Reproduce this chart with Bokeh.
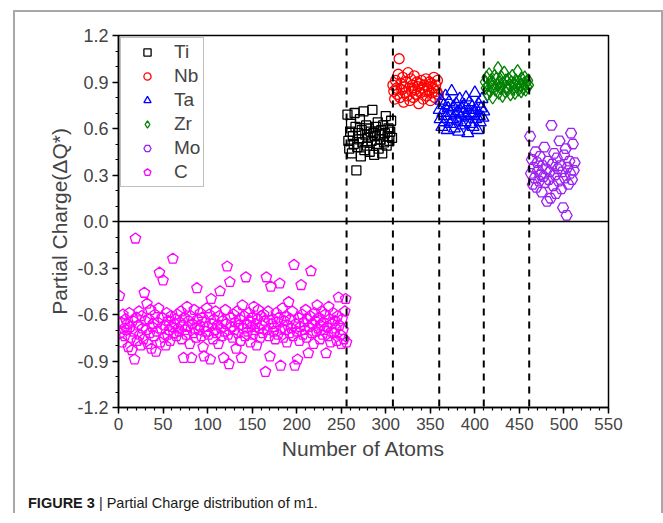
from bokeh.plotting import figure
from bokeh.models import (FixedTicker, PrintfTickFormatter, Span,
                          Legend, LegendItem, Range1d, Div)
from bokeh.layouts import column
from bokeh.embed import file_html
from bokeh.resources import INLINE

# ---------------- data ----------------
x_ticks = [0, 50, 100, 150, 200, 250, 300, 350, 400, 450, 500, 550]
y_ticks = [-1.2, -0.9, -0.6, -0.3, 0.0, 0.3, 0.6, 0.9, 1.2]
boundaries = [256, 308, 360, 410, 461]

c_vals = [
    -0.48, -0.72, -0.65, -0.78, -0.60, -0.69, -0.74, -0.63, -0.70, -0.66, -0.81, -0.59, -0.68, -0.75, -0.83, -0.64,
    -0.71, -0.89, -0.11, -0.62, -0.77, -0.67, -0.58, -0.73, -0.80, -0.61, -0.69, -0.76, -0.46, -0.64, -0.70, -0.53,
    -0.79, -0.63, -0.72, -0.57, -0.82, -0.68, -0.66, -0.74, -0.60, -0.84, -0.71, -0.65, -0.56, -0.33, -0.78, -0.69,
    -0.62, -0.38, -0.75, -0.67, -0.80, -0.59, -0.73, -0.64, -0.70, -0.77, -0.61, -0.68, -0.24, -0.72, -0.66, -0.63,
    -0.74, -0.60, -0.69, -0.71, -0.65, -0.58, -0.76, -0.67, -0.88, -0.62, -0.70, -0.73, -0.55, -0.68, -0.64, -0.79,
    -0.61, -0.88, -0.66, -0.72, -0.57, -0.69, -0.75, -0.43, -0.63, -0.70, -0.67, -0.59, -0.74, -0.62, -0.81, -0.87,
    -0.65, -0.71, -0.56, -0.68, -0.73, -0.60, -0.89, -0.50, -0.66, -0.76, -0.63, -0.70, -0.58, -0.72, -0.67, -0.79,
    -0.61, -0.45, -0.69, -0.74, -0.64, -0.88, -0.71, -0.57, -0.66, -0.29, -0.73, -0.92, -0.39, -0.62, -0.68, -0.75,
    -0.60, -0.70, -0.65, -0.82, -0.58, -0.72, -0.67, -0.63, -0.77, -0.88, -0.54, -0.69, -0.61, -0.74, -0.36, -0.66,
    -0.71, -0.59, -0.64, -0.78, -0.68, -0.62, -0.73, -0.55, -0.70, -0.66, -0.80, -0.63, -0.57, -0.69, -0.75, -0.61,
    -0.67, -0.72, -0.60, -0.64, -0.97, -0.36, -0.70, -0.58, -0.74, -0.87, -0.42, -0.66, -0.63, -0.71, -0.68, -0.76,
    -0.59, -0.65, -0.73, -0.62, -0.40, -0.93, -0.69, -0.56, -0.75, -0.64, -0.70, -0.61, -0.78, -0.67, -0.52, -0.72,
    -0.63, -0.69, -0.58, -0.74, -0.28, -0.93, -0.66, -0.71, -0.89, -0.62, -0.77, -0.68, -0.41, -0.60, -0.73, -0.65,
    -0.70, -0.57, -0.75, -0.63, -0.85, -0.68, -0.61, -0.32, -0.72, -0.66, -0.79, -0.59, -0.64, -0.71, -0.54, -0.69,
    -0.62, -0.76, -0.67, -0.58, -0.73, -0.65, -0.70, -0.60, -0.85, -0.68, -0.74, -0.55, -0.63, -0.78, -0.71, -0.66,
    -0.59, -0.72, -0.64, -0.69, -0.77, -0.61, -0.49, -0.67, -0.73, -0.79, -0.63, -0.70, -0.76, -0.58, -0.50, -0.78,
]
ti_vals = [0.69, 0.52, 0.47, 0.58, 0.63, 0.44, 0.55, 0.50, 0.70, 0.61, 0.33, 0.48, 0.57, 0.53, 0.66, 0.42, 0.59,
           0.51, 0.71, 0.46, 0.56, 0.62, 0.49, 0.54, 0.60, 0.45, 0.58, 0.52, 0.72, 0.57, 0.43, 0.55, 0.61, 0.50,
           0.64, 0.47, 0.56, 0.53, 0.59, 0.44, 0.62, 0.51, 0.57, 0.68, 0.49, 0.55, 0.60, 0.52, 0.58, 0.65, 0.54]
nb_vals = [0.88, 0.84, 0.79, 0.91, 0.86, 0.82, 0.95, 1.05, 0.80, 0.89, 0.85, 0.93, 0.77, 0.87, 0.83, 0.90, 0.81,
           0.96, 0.86, 0.78, 0.92, 0.84, 0.88, 0.80, 0.94, 0.85, 0.82, 0.90, 0.87, 0.76, 0.89, 0.83, 0.91, 0.86,
           0.79, 0.88, 0.84, 0.92, 0.81, 0.87, 0.85, 0.90, 0.78, 0.89, 0.83, 0.86, 0.93, 0.80, 0.88, 0.84, 0.91, 0.82]
ta_vals = [0.72, 0.66, 0.78, 0.61, 0.70, 0.75, 0.64, 0.81, 0.68, 0.59, 0.73, 0.77, 0.63, 0.70, 0.84, 0.66, 0.74,
           0.60, 0.69, 0.76, 0.65, 0.71, 0.58, 0.79, 0.67, 0.73, 0.62, 0.70, 0.75, 0.64, 0.80, 0.68, 0.57, 0.72,
           0.77, 0.63, 0.69, 0.74, 0.61, 0.70, 0.83, 0.66, 0.72, 0.59, 0.76, 0.68, 0.64, 0.73, 0.79, 0.67, 0.71]
zr_vals = [0.90, 0.86, 0.93, 0.82, 0.88, 0.95, 0.84, 0.91, 0.87, 0.80, 0.89, 0.94, 0.85, 0.92, 0.88, 0.99, 0.83,
           0.90, 0.86, 0.93, 0.81, 0.89, 0.96, 0.84, 0.91, 0.87, 0.85, 0.92, 0.88, 0.82, 0.90, 0.94, 0.86, 0.89,
           0.83, 0.91, 0.87, 0.97, 0.85, 0.90, 0.88, 0.84, 0.92, 0.86, 0.89, 0.93, 0.85, 0.90, 0.87, 0.91, 0.88]
mo_vals = [0.55, 0.31, 0.40, 0.24, 0.35, 0.28, 0.45, 0.22, 0.38, 0.33, 0.26, 0.42, 0.30, 0.19, 0.36, 0.29, 0.48,
           0.25, 0.34, 0.13, 0.39, 0.27, 0.32, 0.15, 0.62, 0.37, 0.23, 0.44, 0.30, 0.18, 0.41, 0.34, 0.26, 0.52,
           0.36, 0.21, 0.32, 0.09, 0.43, 0.28, 0.47, 0.04, 0.35, 0.24, 0.39, 0.31, 0.57, 0.27, 0.50, 0.33, 0.38]

c_x = list(range(1, len(c_vals) + 1))
ti_x = list(range(257, 257 + len(ti_vals)))
nb_x = list(range(308, 308 + len(nb_vals)))
ta_x = list(range(360, 360 + len(ta_vals)))
zr_x = list(range(411, 411 + len(zr_vals)))
mo_x = list(range(462, 462 + len(mo_vals)))

FONT = "Liberation Sans"

p = figure(width=646, height=462, output_backend="svg", toolbar_location=None,
           x_range=Range1d(0, 550), y_range=Range1d(-1.2, 1.2),
           min_border_left=103, min_border_right=53, min_border_top=23, min_border_bottom=67)
p.grid.visible = False
p.outline_line_color = "black"
p.outline_line_width = 1.5
p.background_fill_color = "white"

for b in boundaries:
    p.add_layout(Span(location=b, dimension="height", line_color="black",
                      line_width=2, line_dash="7 6"))
p.add_layout(Span(location=0, dimension="width", line_color="black", line_width=1.5))

r_ti = p.scatter(ti_x, ti_vals, marker="square", size=9, fill_color=None, line_color="black", line_width=1.3)
r_nb = p.scatter(nb_x, nb_vals, marker="circle", size=10, fill_color=None, line_color="#ff0000", line_width=1.3)
r_ta = p.scatter(ta_x, ta_vals, marker="triangle", size=12, fill_color=None, line_color="#0000ff", line_width=1.3)
r_zr = p.scatter(zr_x, zr_vals, marker="diamond", size=13, fill_color=None, line_color="#008000", line_width=1.3)
r_mo = p.scatter(mo_x, mo_vals, marker="hex", size=11, fill_color=None, line_color="#9b22f0", line_width=1.3)
r_c = p.ngon(x=c_x, y=c_vals, radius=5.5, radius_units="screen", n=5, fill_color=None,
             line_color="#ff00ff", line_width=1.3)

legend = Legend(items=[LegendItem(label="Ti", renderers=[r_ti]),
                       LegendItem(label="Nb", renderers=[r_nb]),
                       LegendItem(label="Ta", renderers=[r_ta]),
                       LegendItem(label="Zr", renderers=[r_zr]),
                       LegendItem(label="Mo", renderers=[r_mo]),
                       LegendItem(label="C", renderers=[r_c])],
                location="top_left")
legend.margin = 2
legend.padding = 3
legend.spacing = 2
legend.glyph_width = 46
legend.glyph_height = 18
legend.label_height = 18
legend.label_standoff = 4
legend.label_text_font = FONT
legend.label_text_font_size = "19px"
legend.border_line_color = "#808080"
legend.border_line_width = 1
legend.background_fill_alpha = 1
p.add_layout(legend)

p.xaxis.ticker = FixedTicker(ticks=x_ticks, minor_ticks=list(range(0, 551, 10)))
p.yaxis.ticker = FixedTicker(ticks=y_ticks, minor_ticks=[round(-1.2 + 0.1 * i, 1) for i in range(25)])
p.yaxis.formatter = PrintfTickFormatter(format="%.1f")
for ax in (p.xaxis, p.yaxis):
    ax.axis_line_width = 1.5
    ax.major_tick_line_width = 1.5
    ax.minor_tick_line_width = 1.2
    ax.major_tick_out = 6
    ax.major_tick_in = 0
    ax.minor_tick_out = 3
    ax.minor_tick_in = 0
    ax.major_label_text_font = FONT
    ax.axis_label_text_font = FONT
    ax.axis_label_text_font_size = "21px"
    ax.axis_label_text_font_style = "normal"
    ax.major_label_standoff = 4
p.xaxis.major_label_text_font_size = "17px"
p.yaxis.major_label_text_font_size = "18px"
p.xaxis.axis_label = "Number of Atoms"
p.yaxis.axis_label = "Partial Charge(ΔQ*)"
p.xaxis.axis_label_standoff = 4
p.yaxis.axis_label_standoff = 3

caption = Div(text="<b>FIGURE 3</b> | Partial Charge distribution of m1.",
              width=600, height=20,
              styles={"font-family": "Liberation Sans", "font-size": "14.5px",
                      "color": "#1a1a1a", "white-space": "nowrap"})
caption.margin = (19, 0, 0, 13)

layout = column(p, caption)
layout.styles = {"border-left": "2px solid #a8a8a8", "border-top": "2px solid #a8a8a8",
                 "border-right": "2px solid #a8a8a8"}
layout.margin = (10, 0, 0, 13)

open("out.html", "w").write(file_html(layout, INLINE))
